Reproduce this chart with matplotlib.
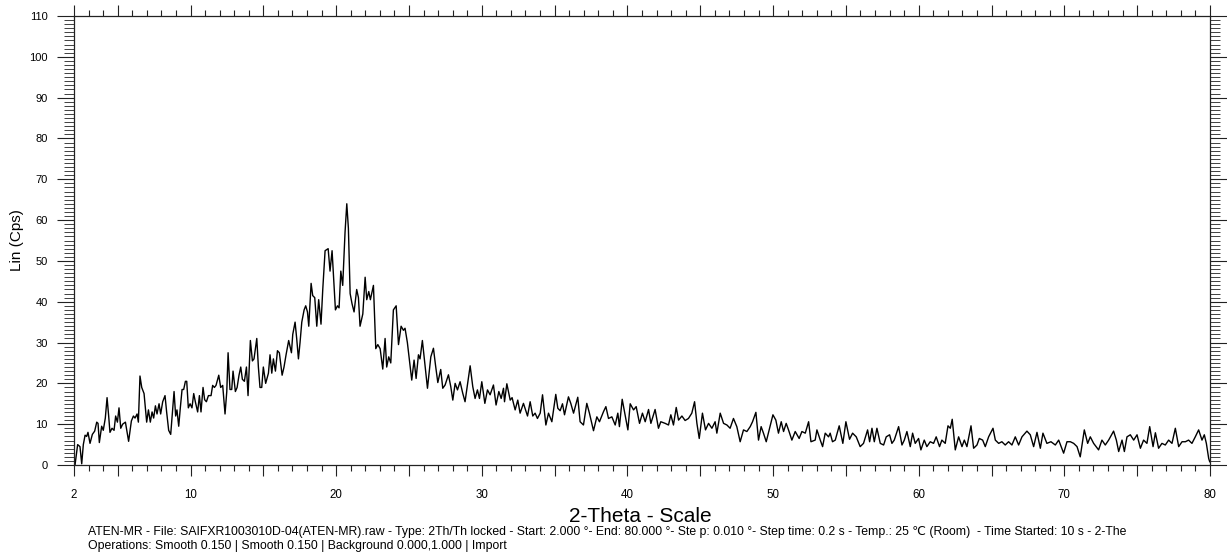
import numpy as np
import matplotlib.pyplot as plt
from matplotlib import font_manager
from matplotlib.ticker import MultipleLocator, FixedLocator, FuncFormatter

# XRD trace (2-theta in degrees, Lin counts)
two_theta = [
    2.07, 2.25, 2.41, 2.53, 2.64, 2.76, 2.87, 2.96, 3.10, 3.26, 3.42, 3.56, 3.65, 3.74, 3.90, 4.01,
    4.15, 4.27, 4.38, 4.47, 4.61, 4.75, 4.86, 4.98, 5.09, 5.21, 5.34, 5.53, 5.75, 5.94, 6.08, 6.19,
    6.33, 6.42, 6.53, 6.65, 6.81, 6.90, 6.99, 7.11, 7.24, 7.36, 7.47, 7.59, 7.70, 7.84, 7.95, 8.09,
    8.25, 8.36, 8.50, 8.64, 8.78, 8.87, 8.98, 9.07, 9.19, 9.30, 9.42, 9.53, 9.65, 9.74, 9.85, 9.97,
    10.10, 10.22, 10.33, 10.49, 10.61, 10.72, 10.86, 10.97, 11.09, 11.23, 11.41, 11.52, 11.64, 11.75,
    11.94, 12.07, 12.21, 12.37, 12.49, 12.58, 12.71, 12.83, 12.92, 13.08, 13.20, 13.33, 13.45, 13.56,
    13.70, 13.84, 13.95, 14.11, 14.25, 14.36, 14.55, 14.66, 14.77, 14.89, 15.00, 15.16, 15.35, 15.46,
    15.58, 15.69, 15.83, 15.97, 16.10, 16.29, 16.42, 16.56, 16.74, 16.93, 17.02, 17.18, 17.29, 17.41,
    17.52, 17.64, 17.80, 17.91, 18.03, 18.12, 18.28, 18.39, 18.53, 18.67, 18.80, 18.96, 19.08, 19.24,
    19.45, 19.58, 19.72, 19.81, 19.95, 20.09, 20.20, 20.32, 20.45, 20.61, 20.73, 20.84, 20.96, 21.09,
    21.23, 21.41, 21.53, 21.64, 21.83, 21.99, 22.10, 22.24, 22.35, 22.56, 22.72, 22.86, 23.02, 23.20,
    23.36, 23.47, 23.61, 23.75, 23.93, 24.12, 24.28, 24.46, 24.62, 24.73, 24.89,
    25.19, 25.35, 25.49, 25.65, 25.76, 25.92, 26.11, 26.27, 26.50, 26.68, 26.82, 26.98, 27.18, 27.32,
    27.48, 27.71, 27.87, 28.01, 28.17, 28.33, 28.51, 28.69, 28.85, 29.20, 29.38, 29.54, 29.70, 29.84,
    30.00, 30.21, 30.39, 30.57, 30.80, 30.98, 31.17, 31.33, 31.49, 31.56, 31.72, 31.95, 32.08, 32.29,
    32.47, 32.63, 32.86, 33.14, 33.32, 33.50, 33.66, 33.82, 34.01, 34.17, 34.40, 34.58, 34.81, 35.08,
    35.22, 35.38, 35.54, 35.68, 35.95, 36.11, 36.30, 36.59, 36.75, 36.98, 37.21, 37.39, 37.67, 37.90,
    38.08, 38.36, 38.52, 38.70, 38.93, 39.16, 39.34, 39.45, 39.64, 39.84, 40.03, 40.19, 40.42, 40.60,
    40.83, 41.03, 41.22, 41.45, 41.61, 41.90, 42.13, 42.29, 42.59, 42.82, 42.98, 43.16, 43.35, 43.51,
    43.74, 43.96, 44.19, 44.42, 44.61, 44.77, 44.93, 45.15, 45.36, 45.57, 45.80, 46.02, 46.14, 46.37,
    46.60, 46.83, 47.05, 47.28, 47.51, 47.74, 47.97, 48.20, 48.43, 48.59, 48.82, 49.00, 49.18, 49.34,
    49.53, 49.76, 49.99, 50.19, 50.37, 50.56, 50.72, 50.90, 51.06, 51.29, 51.52, 51.79, 51.98, 52.21,
    52.44, 52.60, 52.89, 53.01, 53.24,
    53.40, 53.58, 53.81, 53.92, 54.08, 54.27, 54.54, 54.79, 55.00, 55.25, 55.46, 55.71, 55.98, 56.21,
    56.49, 56.63, 56.79, 56.95, 57.13, 57.36, 57.59, 57.77, 58.00, 58.16, 58.32, 58.62, 58.85, 59.01,
    59.19, 59.42, 59.58, 59.76, 59.99, 60.15, 60.38, 60.56, 60.79, 61.02, 61.20, 61.43, 61.59, 61.82,
    62.01, 62.17, 62.30, 62.51, 62.74, 62.97, 63.13, 63.31, 63.59, 63.77, 64.00, 64.16, 64.39, 64.57,
    64.80, 65.10, 65.26, 65.49, 65.71, 65.94, 66.17, 66.40, 66.63, 66.86, 67.09, 67.43, 67.66, 67.89,
    68.12, 68.35, 68.53, 68.80, 69.08, 69.38, 69.61, 69.95, 70.18, 70.41, 70.64, 70.87, 71.09, 71.37,
    71.60, 71.78, 72.01, 72.35, 72.58, 72.81, 73.04, 73.38, 73.57, 73.73, 73.96, 74.12, 74.30, 74.53,
    74.76, 74.99, 75.22, 75.44, 75.67, 75.86, 76.09, 76.25, 76.47, 76.70, 76.93, 77.16, 77.39, 77.62,
    77.85, 78.08, 78.31, 78.53, 78.76, 78.99, 79.22, 79.45, 79.61, 79.75, 79.91, 79.98,
]
lin_cps = [
    0, 5, 4.5, 0.3, 5, 7.3, 7, 8, 5.3, 7.5, 8.3, 10.5, 10.2, 5.5, 9.5, 8.5,
    11.5, 16.5, 12, 8, 9, 8.5, 12, 10.5, 14, 9, 10, 10.5, 5.8, 10.8, 12, 11.5,
    12.5, 10.5, 21.8, 19, 17.5, 14, 10.5, 13.5, 10.5, 13, 11.5, 14.5, 12.5, 15, 12.5, 15.5,
    17, 13, 8.5, 7.5, 14, 18, 12, 13.5, 9.5, 14, 18.5, 18.5, 20.5, 20.5, 14, 15,
    14, 17.5, 15.5, 13, 17, 13, 19, 16, 15.5, 17, 17, 19.5, 19, 19.5,
    22, 19, 19.5, 12.5, 18, 27.5, 18.5, 18.5, 23, 18, 19, 22, 24, 21,
    20.5, 24, 17, 30.5, 25.5, 26, 31, 24, 19, 19, 24, 20, 22.5, 27,
    22.5, 26, 23, 28, 27.5, 22, 24, 27, 30.5, 27.5, 32, 35, 31, 26,
    30, 35, 38, 39, 37.5, 34, 44.5, 41.5, 41, 34, 40.5, 34.5, 43, 52.5,
    53, 47.5, 52.5, 47, 38, 39, 38.5, 47.5, 44, 57, 64, 58, 42, 39.5,
    37.5, 43, 41, 34, 37, 46, 40.5, 42.5, 40.5, 44, 28.5, 29.5, 28.5, 23.5,
    31, 24, 26.5, 25, 38, 39, 29.5, 34, 33, 33.5, 30,
    20.8, 25.7, 21.2, 27, 26, 30.5, 24.1, 18.8, 26.5, 28.6, 24.5, 20.2, 23.4, 18.8,
    19.6, 22.1, 19.2, 15.9, 20, 18.4, 20.4, 17.6, 15.5, 24.3, 19.2, 16.3, 18.4, 16.3,
    20.4, 15.1, 18.4, 17.2, 19.6, 14.7, 18, 16.3, 18.8, 15.5, 19.9, 15.9, 16.5, 13.5,
    15.9, 12.7, 15.1, 12, 15.5, 12, 12.7, 11.4, 12.7, 17.2, 9.8, 12.7, 10.6, 17.3,
    13.9, 13.3, 15, 12.3, 16.7, 15.1, 12.7, 16.6, 10.6, 9.8, 15.1, 12.7, 8.4, 11.8,
    10.6, 13.1, 14.3, 11.4, 11.8, 9.8, 12.7, 9.4, 16.1, 12.3, 8.6, 15, 13.5, 14.3,
    10.2, 12.7, 10.6, 13.6, 10.2, 13.6, 9, 10.6, 10.2, 9.8, 12.3, 9.8, 14.1, 11,
    12, 10.9, 11.4, 12.7, 15.5, 10.2, 6.5, 12.7, 8.6, 10.2, 9, 10.6, 7.8, 12.7,
    10.2, 9.8, 9, 11.4, 9.4, 5.7, 8.6, 8.2, 9.4, 10.6, 12.9, 6.1, 9.4, 7.8,
    5.7, 9, 12.3, 11, 7.8, 10.6, 8.2, 10.2, 8.6, 6.1, 8.2, 6.5, 8.2, 7.8,
    10.6, 5.7, 6.1, 8.6, 6.1,
    4.5, 7.8, 6.9, 7.8, 5.7, 6.1, 9.6, 5.3, 10.6, 6.3, 7.8, 6.9, 4.5, 5.3,
    8.6, 5.7, 9, 5.7, 9, 5.3, 4.9, 6.9, 7.4, 5.3, 6.1, 9.4, 4.9, 6.1,
    8.2, 4.5, 7.8, 5.3, 6.5, 3.7, 6.1, 4.5, 5.7, 5.3, 6.9, 4.5, 6.1, 5.3,
    9.6, 9, 11.2, 3.7, 6.9, 4.5, 6.1, 4.5, 9.6, 4.1, 4.9, 6.5, 6.1, 4.5,
    6.9, 9, 6.1, 5.3, 5.7, 4.9, 5.7, 4.9, 6.9, 4.9, 6.9, 8.3, 7.4, 4.5,
    8, 4.1, 7.8, 5.3, 5.7, 4.9, 6.1, 2.9, 5.7, 5.7, 5.3, 4.5, 2, 8.6,
    5.3, 6.9, 5.3, 3.7, 6.1, 4.9, 6.1, 8.3, 6.1, 3.3, 6.1, 3.3, 6.9, 7.4,
    6.1, 7.4, 4.1, 6.1, 5.3, 9.4, 4.5, 7.9, 4.1, 5.3, 4.9, 6.1, 5.3, 9,
    4.5, 5.7, 5.7, 6.1, 5.3, 6.9, 8.6, 6.1, 7.4, 5.3, 1.6, 0.8,
]

x_labels = [2, 10, 20, 30, 40, 50, 60, 70, 80]
footer_1 = ("ATEN-MR - File: SAIFXR1003010D-04(ATEN-MR).raw - Type: 2Th/Th locked - Start: 2.000 \u00b0- "
            "End: 80.000 \u00b0- Ste p: 0.010 \u00b0- Step time: 0.2 s - Temp.: 25 \u2103 (Room)  - "
            "Time Started: 10 s - 2-The")
footer_2 = "Operations: Smooth 0.150 | Smooth 0.150 | Background 0.000,1.000 | Import"

names = {f.name for f in font_manager.fontManager.ttflist}
narrow = 'Liberation Sans Narrow' if 'Liberation Sans Narrow' in names else 'Liberation Sans'
fam = [narrow, 'Liberation Sans', 'DejaVu Sans']
plt.rcParams['font.family'] = ['Liberation Sans', 'DejaVu Sans']

W, H = 1227, 552
fig = plt.figure(figsize=(W / 100, H / 100), dpi=100)
ax = fig.add_axes([74 / W, 1 - 465 / H, (1210 - 74) / W, (465 - 16) / H])

ax.plot(two_theta, lin_cps, color='black', lw=1.0)
ax.set_xlim(2, 80)
ax.set_ylim(0, 110)

for s in ax.spines.values():
    s.set_linewidth(0.9)
    s.set_color('#222222')

ax.xaxis.set_major_locator(FixedLocator([2] + list(range(5, 81, 5))))
ax.xaxis.set_minor_locator(MultipleLocator(1))
ax.xaxis.set_major_formatter(FuncFormatter(lambda v, p: f"{v:.0f}" if round(v) in x_labels else ""))
ax.tick_params(axis='x', which='major', direction='out', length=8, width=0.8, top=True,
               pad=9, labelsize=8.3, color='#222222')
ax.tick_params(axis='x', which='minor', direction='out', length=4, width=0.8, top=True, color='#222222')
for lab in ax.get_xticklabels():
    lab.set_family(fam)

ax.yaxis.set_major_locator(MultipleLocator(10))
ax.yaxis.set_minor_locator(MultipleLocator(1))
ax.tick_params(axis='y', which='major', direction='out', length=12, width=0.8, right=True,
               pad=7, labelsize=8, color='#222222')
ax.tick_params(axis='y', which='minor', direction='out', length=7, width=0.6, right=True, color='#222222')

fig.text(17 / W, 1 - 240 / H, 'Lin (Cps)', rotation=90, ha='center', va='center', fontsize=11)
fig.text(640 / W, 1 - 516 / H, '2-Theta - Scale', ha='center', va='center', fontsize=15, family=fam)
fig.text(88 / W, 1 - 532 / H, footer_1, ha='left', va='center', fontsize=8.8, family=fam)
fig.text(88 / W, 1 - 546 / H, footer_2, ha='left', va='center', fontsize=8.8, family=fam)

fig.savefig('out.png', dpi=100)
